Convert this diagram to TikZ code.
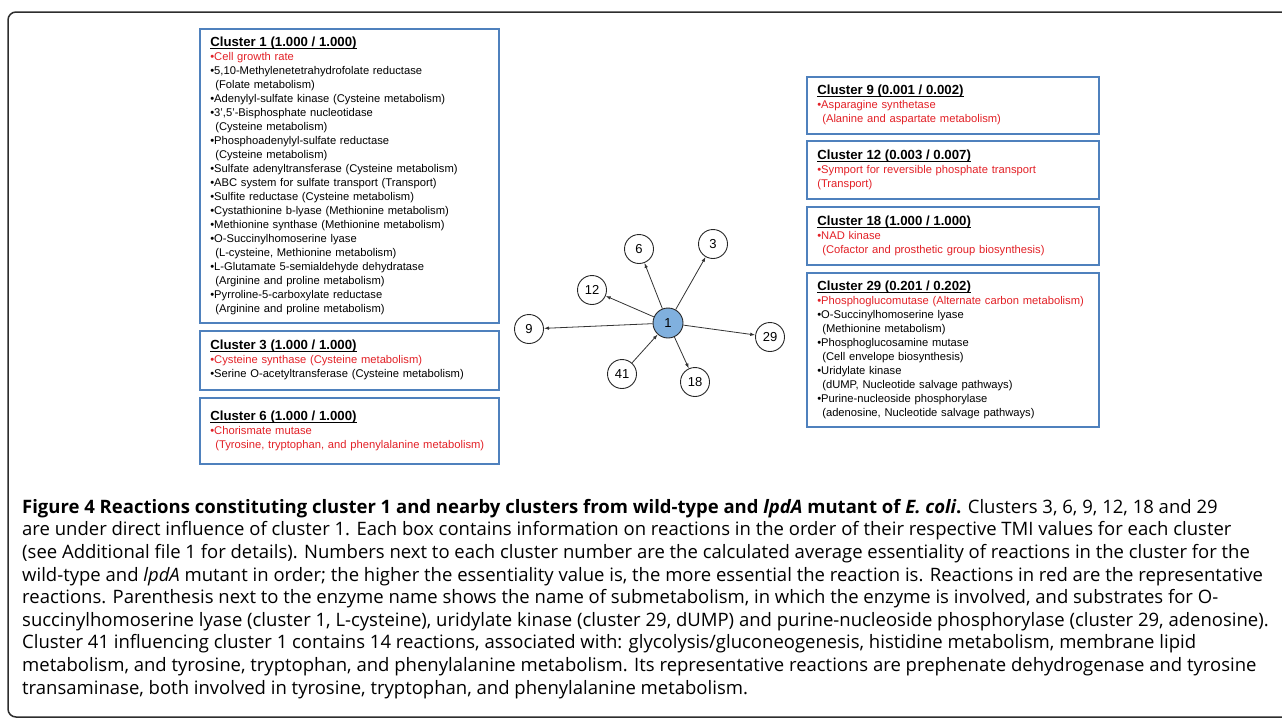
\documentclass[tikz,border=0pt]{standalone}
\usepackage{fontspec}
\setmainfont{Liberation Sans}
\newfontfamily\capfont{Open Sans}
\usepackage{tikz}
\usetikzlibrary{arrows.meta,positioning}

\definecolor{boxblue}{RGB}{79,129,189}
\definecolor{rxred}{RGB}{226,32,38}
\definecolor{hubblue}{RGB}{128,176,222}
\definecolor{framegray}{RGB}{45,45,45}

\newcommand{\ctitle}[1]{{\fontsize{13.2}{14}\selectfont\bfseries\vphantom{(}\underline{\smash{#1}}}}
\newcommand{\rx}[1]{\textcolor{rxred}{#1}}
\newcommand{\ind}{\hspace*{5pt}}

\tikzset{
  clusterbox/.style={draw=boxblue, line width=1.6pt, anchor=north west, align=left,
    inner xsep=10pt, text width=278pt, minimum width=299pt,
    font=\fontsize{11.2}{14}\selectfont},
  rightbox/.style={clusterbox, text width=271pt, minimum width=292pt},
  cnode/.style={circle, draw=black!85, line width=0.9pt, minimum size=29pt, inner sep=0pt,
    font=\fontsize{13}{13}\selectfont},
  hubnode/.style={cnode, fill=hubblue, minimum size=30pt},
  link/.style={-{Latex[length=5pt,width=3.5pt]}, draw=black!80, line width=0.8pt},
}

\begin{document}
\begin{tikzpicture}[x=1pt,y=-1pt]
  \useasboundingbox (0,0) rectangle (1282,718);
  % outer frame
  \draw[framegray, line width=1.5pt, rounded corners=8pt] (1300,12) -- (8,12) -- (8,717) -- (1300,717);

  % left boxes
  \node[clusterbox, minimum height=294pt] (c1) at (199,28) {
    \ctitle{Cluster 1 (1.000 / 1.000)}\\
    \rx{•Cell growth rate}\\
    •5,10-Methylenetetrahydrofolate reductase\\
    \ind(Folate metabolism)\\
    •Adenylyl-sulfate kinase (Cysteine metabolism)\\
    •3',5'-Bisphosphate nucleotidase\\
    \ind(Cysteine metabolism)\\
    •Phosphoadenylyl-sulfate reductase\\
    \ind(Cysteine metabolism)\\
    •Sulfate adenyltransferase (Cysteine metabolism)\\
    •ABC system for sulfate transport (Transport)\\
    •Sulfite reductase (Cysteine metabolism)\\
    •Cystathionine b-lyase (Methionine metabolism)\\
    •Methionine synthase (Methionine metabolism)\\
    •O-Succinylhomoserine lyase\\
    \ind(L-cysteine, Methionine metabolism)\\
    •L-Glutamate 5-semialdehyde dehydratase\\
    \ind(Arginine and proline metabolism)\\
    •Pyrroline-5-carboxylate reductase\\
    \ind(Arginine and proline metabolism)};
  \node[clusterbox, minimum height=59pt] (c3) at (199,330) {
    \ctitle{Cluster 3 (1.000 / 1.000)}\\
    \rx{•Cysteine synthase (Cysteine metabolism)}\\
    •Serine O-acetyltransferase (Cysteine metabolism)};
  \node[clusterbox, minimum height=66pt] (c6) at (199,397) {
    \ctitle{Cluster 6 (1.000 / 1.000)}\\
    \rx{•Chorismate mutase}\\
    \rx{\ind(Tyrosine, tryptophan, and phenylalanine metabolism)}};

  % right boxes
  \node[rightbox, minimum height=57pt] (c9) at (806,76) {
    \ctitle{Cluster 9 (0.001 / 0.002)}\\
    \rx{•Asparagine synthetase}\\
    \rx{\ind(Alanine and aspartate metabolism)}};
  \node[rightbox, minimum height=58pt] (c12) at (806,140) {
    \ctitle{Cluster 12 (0.003 / 0.007)}\\
    \rx{•Symport for reversible phosphate transport}\\
    \rx{(Transport)}};
  \node[rightbox, minimum height=58pt] (c18) at (806,206) {
    \ctitle{Cluster 18 (1.000 / 1.000)}\\
    \rx{•NAD kinase}\\
    \rx{\ind(Cofactor and prosthetic group biosynthesis)}};
  \node[rightbox, minimum height=154pt] (c29) at (806,272) {
    \ctitle{Cluster 29 (0.201 / 0.202)}\\
    \rx{•Phosphoglucomutase (Alternate carbon metabolism)}\\
    •O-Succinylhomoserine lyase\\
    \ind(Methionine metabolism)\\
    •Phosphoglucosamine mutase\\
    \ind(Cell envelope biosynthesis)\\
    •Uridylate kinase\\
    \ind(dUMP, Nucleotide salvage pathways)\\
    •Purine-nucleoside phosphorylase\\
    \ind(adenosine, Nucleotide salvage pathways)};

  % cluster graph
  \node[hubnode] (n1) at (668,323) {1};
  \node[cnode] (n6) at (639,249) {6};
  \node[cnode] (n3) at (713,244) {3};
  \node[cnode] (n12) at (592,290) {12};
  \node[cnode] (n9) at (529,329) {9};
  \node[cnode] (n29) at (770,337) {29};
  \node[cnode] (n41) at (622,374) {41};
  \node[cnode] (n18) at (695,382) {18};
  \foreach \t in {6,3,12,9,29,18}
    \draw[link] (n1) -- (n\t);
  \draw[link] (n41) -- (n1);

  % caption
  \node[anchor=north west, align=left, inner sep=0pt,
        font=\capfont\fontsize{18.5}{22.6}\selectfont] (cap) at (22,499) {
    \textbf{Figure 4 Reactions constituting cluster 1 and nearby clusters from wild-type and \textit{lpdA} mutant of \textit{E. coli}.} Clusters 3, 6, 9, 12, 18 and 29\\
    are under direct influence of cluster 1. Each box contains information on reactions in the order of their respective TMI values for each cluster\\
    (see Additional file 1 for details). Numbers next to each cluster number are the calculated average essentiality of reactions in the cluster for the\\
    wild-type and \textit{lpdA} mutant in order; the higher the essentiality value is, the more essential the reaction is. Reactions in red are the representative\\
    reactions. Parenthesis next to the enzyme name shows the name of submetabolism, in which the enzyme is involved, and substrates for O-\\
    succinylhomoserine lyase (cluster 1, L-cysteine), uridylate kinase (cluster 29, dUMP) and purine-nucleoside phosphorylase (cluster 29, adenosine).\\
    Cluster 41 influencing cluster 1 contains 14 reactions, associated with: glycolysis/gluconeogenesis, histidine metabolism, membrane lipid\\
    metabolism, and tyrosine, tryptophan, and phenylalanine metabolism. Its representative reactions are prephenate dehydrogenase and tyrosine\\
    transaminase, both involved in tyrosine, tryptophan, and phenylalanine metabolism.};
\end{tikzpicture}
\end{document}
